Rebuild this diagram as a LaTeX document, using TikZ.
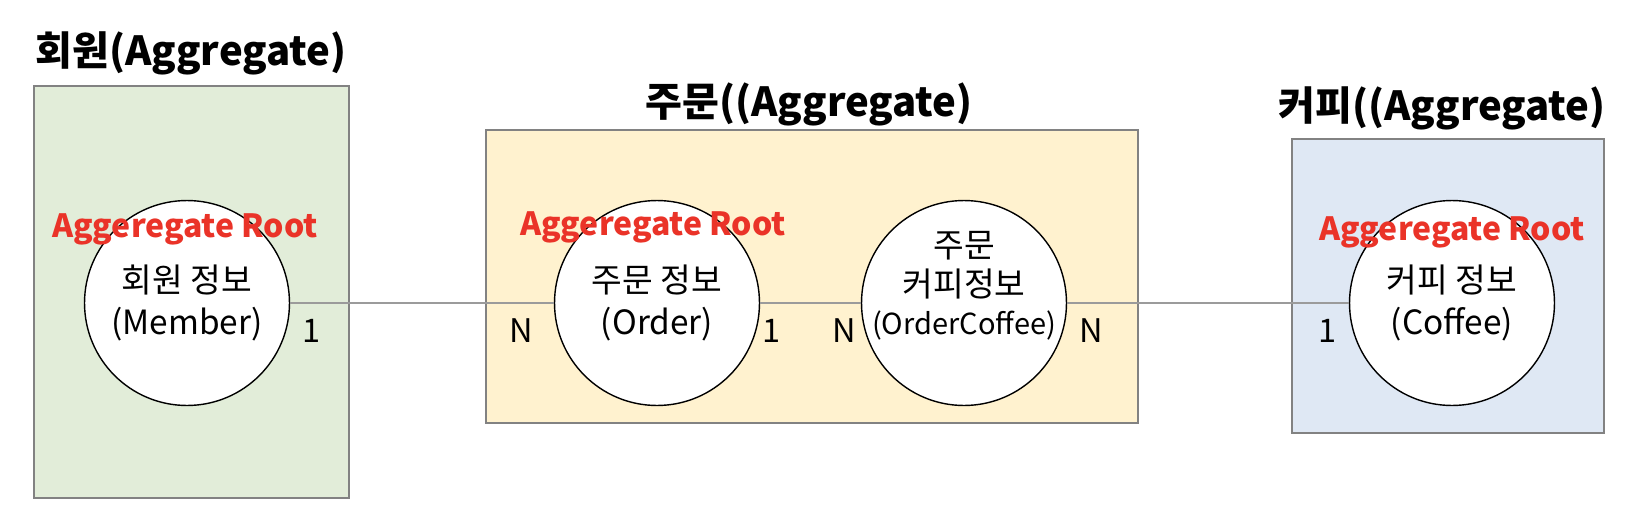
\documentclass[tikz,border=0pt]{standalone}
\usepackage{fontspec}
\setmainfont{Noto Sans CJK KR}
\usetikzlibrary{positioning}
\definecolor{vertClair}{RGB}{226,237,217}
\definecolor{jauneClair}{RGB}{255,242,207}
\definecolor{bleuClair}{RGB}{223,232,244}
\definecolor{monRouge}{RGB}{234,51,40}
\definecolor{grisBord}{RGB}{130,130,130}
\definecolor{grisLien}{RGB}{155,155,155}

\begin{document}
\begin{tikzpicture}[x=0.02cm, y=-0.02cm,
    boite/.style={draw=grisBord, line width=1.1pt},
    entite/.style={circle, draw, fill=white, line width=0.8pt, minimum size=4.1cm, inner sep=0pt,
        align=center, font=\fontsize{19}{24}\selectfont},
    racine/.style={text=monRouge, inner sep=0pt, anchor=base, font=\fontsize{18.2}{21}\selectfont\bfseries},
    titre/.style={inner sep=0pt, font=\fontsize{22.8}{27}\selectfont\bfseries},
    card/.style={inner sep=0pt, font=\fontsize{18.5}{20}\selectfont},
    lien/.style={draw=grisLien, line width=0.9pt}]
        \useasboundingbox (0,0) rectangle (1644,528);

        % Aggregats
        \draw[boite, fill=vertClair] (34,86) rectangle (349,498);
        \draw[boite, fill=jauneClair] (486,130) rectangle (1138,423);
        \draw[boite, fill=bleuClair] (1292,139) rectangle (1604,433);

        \node[titre, anchor=base west] (tMembre) at (35,65) {회원(Aggregate)};
        \node[titre, anchor=base] (tCommande) at (809,116) {주문((Aggregate)};
        \node[titre, anchor=base east] (tCafe) at (1606,120) {커피((Aggregate)};

        % Entites
        \node[entite] (membre) at (187,303) {회원 정보\\(Member)};
        \node[entite] (commande) at (657,303) {주문 정보\\(Order)};
        \node[entite] (cmdCafe) at (964,303) {};
        \node[align=center, inner sep=0pt, font=\fontsize{19}{22}\selectfont] (cmdCafeTxt) at (964,286)
            {주문\\커피정보\\{\fontsize{16.5}{20}\selectfont(OrderCoffee)}};
        \node[entite] (cafe) at (1452,303) {커피 정보\\(Coffee)};

        % Liens
        \draw[lien] (membre) -- (commande);
        \draw[lien] (commande) -- (cmdCafe);
        \draw[lien] (cmdCafe) -- (cafe);

        \node[card] (c1) at (312,331) {1};
        \node[card] (c2) at (521,331) {N};
        \node[card] (c3) at (772,331) {1};
        \node[card] (c4) at (844,331) {N};
        \node[card] (c5) at (1091,331) {N};
        \node[card] (c6) at (1328,331) {1};

        % Racines
        \node[racine] (rMembre) at (185,237) {Aggeregate Root};
        \node[racine] (rCommande) at (653,235) {Aggeregate Root};
        \node[racine] (rCafe) at (1452,240) {Aggeregate Root};
    \end{tikzpicture}
\end{document}
